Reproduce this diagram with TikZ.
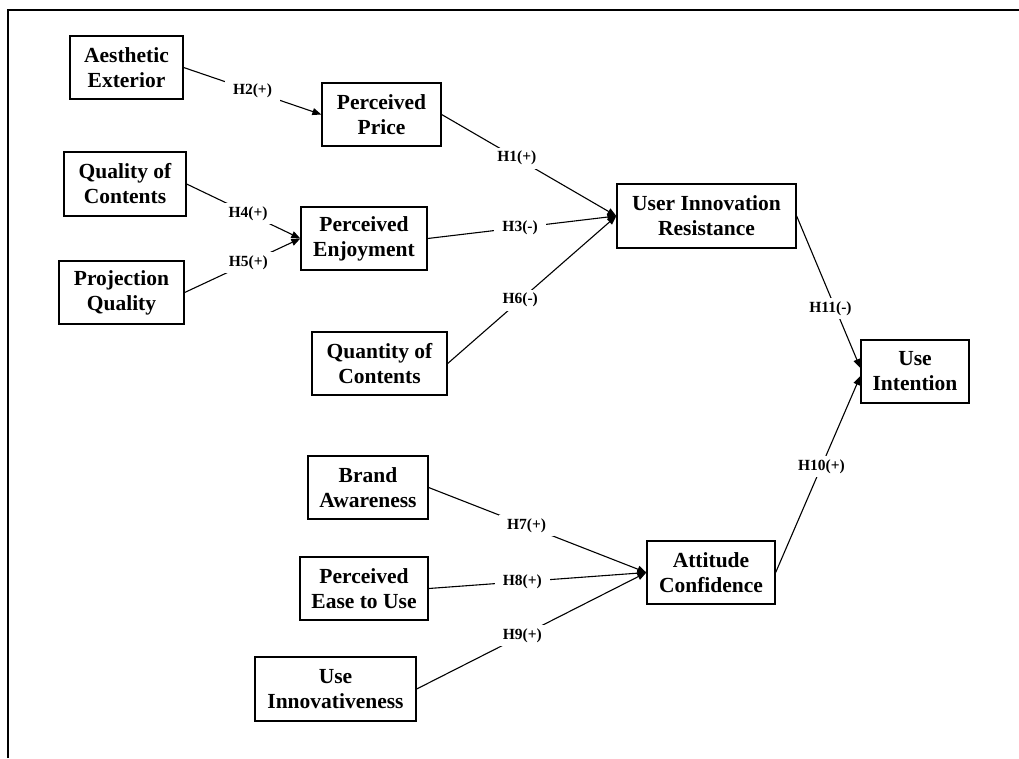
\documentclass[tikz,border=0pt]{standalone}
\usepackage{fontspec}
\setmainfont{Liberation Serif}
\usetikzlibrary{arrows.meta}
\tikzset{
  box/.style={draw, line width=1.3pt, rectangle, inner sep=0pt, align=center,
    font=\fontsize{21.5}{25}\selectfont\bfseries},
  lbl/.style={fill=white, inner xsep=8pt, inner ysep=3.5pt, font=\fontsize{15.5}{18}\selectfont\bfseries},
  link/.style={line width=1.1pt, -{Triangle[length=9pt,width=7pt]}},
  frame/.style={line width=2pt}
}
\begin{document}
\begin{tikzpicture}[x=1pt,y=-1pt]
\useasboundingbox (0,0) rectangle (1019,758);
\coordinate (fa) at (8,758);
\coordinate (fb) at (8,10);
\coordinate (fc) at (1019,10);
\draw[frame] (fa) -- (fb) -- (fc);

\node[box, minimum width=113pt, minimum height=63pt] (ae) at (126.5,67.5) {Aesthetic\\Exterior};
\node[box, minimum width=119pt, minimum height=63pt] (pp) at (381.5,114.5) {Perceived\\Price};
\node[box, minimum width=122pt, minimum height=64pt] (qoc) at (125,184) {Quality of\\Contents};
\node[box, minimum width=126pt, minimum height=63pt] (pe) at (364,238.5) {Perceived\\Enjoyment};
\node[box, minimum width=125pt, minimum height=63pt] (pq) at (121.5,292.5) {Projection\\Quality};
\node[box, minimum width=179pt, minimum height=64pt] (uir) at (706.5,216) {User Innovation\\Resistance};
\node[box, minimum width=135pt, minimum height=63pt] (qtc) at (379.5,363.5) {Quantity of\\Contents};
\node[box, minimum width=108pt, minimum height=63pt] (ui) at (915,371.5) {Use\\Intention};
\node[box, minimum width=120pt, minimum height=63pt] (ba) at (368,487.5) {Brand\\Awareness};
\node[box, minimum width=128pt, minimum height=63pt] (peu) at (364,588.5) {Perceived\\Ease to Use};
\node[box, minimum width=161pt, minimum height=64pt] (uinn) at (335.5,689) {Use\\Innovativeness};
\node[box, minimum width=128pt, minimum height=63pt] (ac) at (711,572.5) {Attitude\\Confidence};

\draw[link] (ae.east) -- node[lbl, pos=0.5] (h2) {H2(+)} (pp.west);
\draw[link] (pp.east) -- node[lbl, pos=0.43] (h1) {H1(+)} (uir.west);
\draw[link] (qoc.east) -- node[lbl, pos=0.54] (h4) {H4(+)} (pe.west);
\draw[link] (pq.east) -- node[lbl, pos=0.55] (h5) {H5(+)} (pe.west);
\draw[link] (pe.east) -- node[lbl, pos=0.49] (h3) {H3(-)} (uir.west);
\draw[link] (qtc.east) -- node[lbl, pos=0.43] (h6) {H6(-)} (uir.west);
\draw[link] (uir.east) -- node[lbl, pos=0.61, xshift=-5pt, inner xsep=3pt] (h11) {H11(-)} ([yshift=3.5pt]ui.west);
\draw[link] (ac.east) -- node[lbl, pos=0.54, inner xsep=3pt] (h10) {H10(+)} ([yshift=-4.5pt]ui.west);
\draw[link] (ba.east) -- node[lbl, pos=0.45] (h7) {H7(+)} (ac.west);
\draw[link] (peu.east) -- node[lbl, pos=0.43] (h8) {H8(+)} (ac.west);
\draw[link] (uinn.east) -- node[lbl, pos=0.46] (h9) {H9(+)} (ac.west);
\end{tikzpicture}
\end{document}
